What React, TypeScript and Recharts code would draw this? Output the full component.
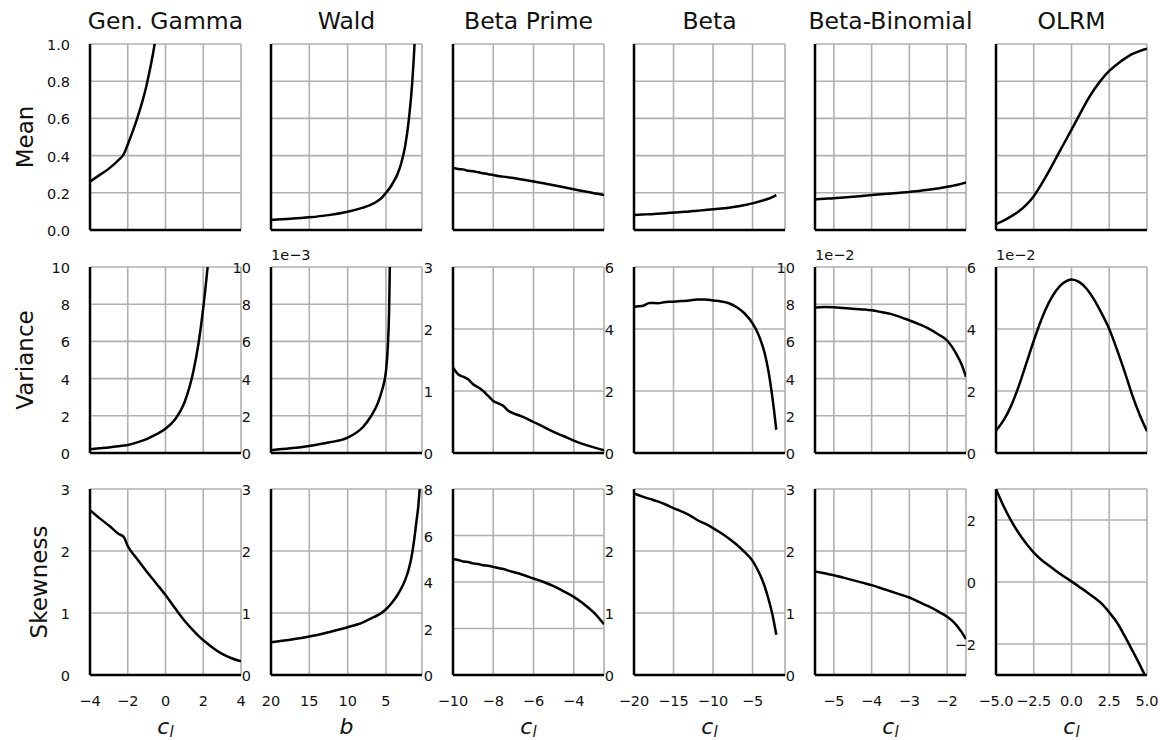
import React from 'react';
import { LineChart, Line, XAxis, YAxis, CartesianGrid } from 'recharts';

const FONT = 'DejaVu Sans';

// Column titles and row labels
const DIST_TITLES = ['Gen. Gamma', 'Wald', 'Beta Prime', 'Beta', 'Beta-Binomial', 'OLRM'];
const ROW_LABELS = ['Mean', 'Variance', 'Skewness'];
const X_LABELS = ['c', 'b', 'c', 'c', 'c', 'c'];

// Generalised gamma, against c_l
const GG_C = [-4, -3.5, -3, -2.5, -2.2, -2, -1.5, -1, -0.5, 0, 0.5, 1, 1.5, 1.75, 2, 2.25, 2.5, 3, 3.5, 4];
const GG_MEAN = [0.26, 0.295, 0.33, 0.375, 0.41, 0.46, 0.6, 0.78, 1.05, 1.5, null, null, null, null, null, null, null, null, null, null];
const GG_VAR = [0.2, 0.25, 0.3, 0.36, 0.4, 0.43, 0.57, 0.75, 1.0, 1.3, 1.8, 2.7, 4.5, 5.9, 7.8, 10.2, 13, null, null, null];
const GG_SKEW = [2.66, 2.53, 2.41, 2.28, 2.22, 2.08, 1.87, 1.67, 1.48, 1.29, 1.08, 0.88, 0.71, 0.63, 0.56, 0.5, 0.44, 0.34, 0.27, 0.22];

// Wald, against b (variance in units of 1e-3)
const WALD_B = [20, 17.5, 15, 12.5, 10, 8, 7, 6, 5.5, 5, 4.75, 4.6, 4.5, 4.25, 4, 3.5, 3, 2.5, 2, 1.6, 1.3, 1, 0.8, 0.6, 0.3];
const WALD_MEAN = [0.054, 0.06, 0.068, 0.08, 0.098, 0.12, 0.135, 0.158, 0.176, 0.2, 0.212, 0.22, 0.226, 0.242, 0.26, 0.3, 0.36, 0.45, 0.6, 0.78, 0.98, 1.3, null, null, null];
const WALD_VAR = [0.15, 0.25, 0.38, 0.56, 0.83, 1.4, 1.95, 2.75, 3.4, 4.4, 5.8, 7.5, 9.9, 15, null, null, null, null, null, null, null, null, null, null, null];
const WALD_SKEW = [0.53, 0.57, 0.62, 0.69, 0.77, 0.85, 0.91, 0.97, 1.01, 1.06, 1.09, 1.11, 1.125, 1.16, 1.2, 1.29, 1.4, 1.53, 1.72, 1.95, 2.2, 2.5, 2.7, 3.0, 3.4];

// Beta prime, against c_l
const BP_C = [-10, -9.75, -9.5, -9.25, -9, -8.75, -8.5, -8.25, -8, -7.75, -7.5, -7.25, -7, -6.5, -6, -5.5, -5, -4.5, -4, -3.5, -3, -2.5];
const BP_MEAN = [0.333, 0.328, 0.326, 0.318, 0.316, 0.31, 0.305, 0.3, 0.296, 0.29, 0.287, 0.283, 0.279, 0.27, 0.261, 0.251, 0.241, 0.23, 0.219, 0.208, 0.198, 0.188];
const BP_VAR = [1.38, 1.27, 1.23, 1.19, 1.11, 1.06, 1.0, 0.92, 0.84, 0.8, 0.76, 0.68, 0.64, 0.58, 0.5, 0.42, 0.34, 0.27, 0.2, 0.14, 0.09, 0.045];
const BP_SKEW = [4.98, 4.95, 4.88, 4.86, 4.8, 4.77, 4.72, 4.7, 4.65, 4.6, 4.56, 4.49, 4.43, 4.3, 4.15, 4.0, 3.82, 3.6, 3.36, 3.05, 2.68, 2.18];

// Beta, against c_l
const BETA_C = [-20, -19, -18, -17, -16, -15, -14, -13, -12, -11, -10, -9, -8, -7, -6, -5, -4.5, -4, -3.5, -3, -2.5, -2];
const BETA_MEAN = [0.08, 0.083, 0.085, 0.088, 0.09, 0.094, 0.097, 0.1, 0.104, 0.107, 0.111, 0.115, 0.12, 0.126, 0.134, 0.143, 0.149, 0.155, 0.161, 0.168, 0.177, 0.188];
const BETA_VAR = [4.72, 4.74, 4.84, 4.83, 4.87, 4.88, 4.9, 4.92, 4.95, 4.95, 4.92, 4.89, 4.83, 4.7, 4.5, 4.18, 3.95, 3.65, 3.25, 2.65, 1.8, 0.75];
const BETA_SKEW = [2.93, 2.88, 2.84, 2.8, 2.75, 2.69, 2.64, 2.58, 2.5, 2.44, 2.37, 2.29, 2.2, 2.1, 1.98, 1.84, 1.73, 1.6, 1.44, 1.23, 0.98, 0.65];

// Beta-binomial, against c_l (variance in units of 1e-2)
const BB_C = [-5.5, -5.25, -5, -4.75, -4.5, -4.25, -4, -3.75, -3.5, -3.25, -3, -2.75, -2.5, -2.25, -2, -1.875, -1.75, -1.625, -1.5];
const BB_MEAN = [0.165, 0.168, 0.171, 0.175, 0.179, 0.183, 0.188, 0.192, 0.196, 0.2, 0.205, 0.21, 0.216, 0.223, 0.232, 0.237, 0.242, 0.248, 0.255];
const BB_VAR = [7.82, 7.85, 7.84, 7.8, 7.76, 7.72, 7.67, 7.58, 7.48, 7.32, 7.13, 6.93, 6.7, 6.4, 6.05, 5.72, 5.3, 4.8, 4.1];
const BB_SKEW = [1.67, 1.64, 1.61, 1.57, 1.53, 1.49, 1.45, 1.4, 1.35, 1.3, 1.25, 1.18, 1.11, 1.03, 0.94, 0.88, 0.8, 0.7, 0.58];

// Ordered logistic regression model, against c_l (variance in units of 1e-2)
const OLRM_C = [-5, -4.5, -4, -3.5, -3, -2.5, -2, -1.5, -1, -0.5, 0, 0.5, 1, 1.5, 2, 2.5, 3, 3.5, 4, 4.5, 5];
const OLRM_MEAN = [0.032, 0.05, 0.073, 0.1, 0.135, 0.182, 0.245, 0.315, 0.39, 0.465, 0.54, 0.615, 0.69, 0.755, 0.81, 0.855, 0.89, 0.92, 0.945, 0.962, 0.975];
const OLRM_VAR = [0.72, 1.05, 1.52, 2.15, 2.88, 3.62, 4.3, 4.85, 5.25, 5.5, 5.6, 5.52, 5.3, 4.95, 4.5, 4.0, 3.35, 2.65, 1.9, 1.25, 0.7];
const OLRM_SKEW = [3.0, 2.45, 1.98, 1.58, 1.24, 0.95, 0.72, 0.53, 0.35, 0.18, 0.02, -0.15, -0.32, -0.5, -0.7, -0.98, -1.3, -1.72, -2.18, -2.65, -3.15];

// Axis settings per column
const X_DOMAINS: [number, number][] = [[-4, 4], [0.3, 20], [-10, -2.5], [-20, -0.9], [-5.5, -1.5], [-5, 5]];
const X_TICKS = [[-4, -2, 0, 2, 4], [5, 10, 15, 20], [-10, -8, -6, -4], [-20, -15, -10, -5], [-5, -4, -3, -2], [-5, -2.5, 0, 2.5, 5]];
const X_DECIMALS = [0, 0, 0, 0, 0, 1];

// Axis settings per row and column
const MEAN_TICKS = [0, 0.2, 0.4, 0.6, 0.8, 1];
const Y_DOMAINS: [number, number][][] = [
  [[0, 1], [0, 1], [0, 1], [0, 1], [0, 1], [0, 1]],
  [[0, 10], [0, 10], [0, 3], [0, 6], [0, 10], [0, 6]],
  [[0, 3], [0, 3], [0, 8], [0, 3], [0, 3], [-3, 3]],
];
const Y_TICKS = [
  [MEAN_TICKS, MEAN_TICKS, MEAN_TICKS, MEAN_TICKS, MEAN_TICKS, MEAN_TICKS],
  [[0, 2, 4, 6, 8, 10], [0, 2, 4, 6, 8, 10], [0, 1, 2, 3], [0, 2, 4, 6], [0, 2, 4, 6, 8, 10], [0, 2, 4, 6]],
  [[0, 1, 2, 3], [0, 1, 2, 3], [0, 2, 4, 6, 8], [0, 1, 2, 3], [0, 1, 2, 3], [-2, 0, 2]],
];
const Y_OFFSETS = [
  ['', '', '', '', '', ''],
  ['', '1e\u22123', '', '', '1e\u22122', '1e\u22122'],
  ['', '', '', '', '', ''],
];

const X_VALUES = [GG_C, WALD_B, BP_C, BETA_C, BB_C, OLRM_C];
const SERIES = [
  [GG_MEAN, WALD_MEAN, BP_MEAN, BETA_MEAN, BB_MEAN, OLRM_MEAN],
  [GG_VAR, WALD_VAR, BP_VAR, BETA_VAR, BB_VAR, OLRM_VAR],
  [GG_SKEW, WALD_SKEW, BP_SKEW, BETA_SKEW, BB_SKEW, OLRM_SKEW],
];

// Layout of the 6 x 3 grid of panels
const COL_LEFT = [90, 271, 453, 634, 815, 996];
const ROW_TOP = [44, 267, 489];
const PW = 151;
const PH = 186;
const ML = 60;
const MR = 20;
const MT = 16;
const MB = 40;
const ROW_LABEL_X = [33, 33, 47];

const fmt = (decimals: number) => (v: number) => v.toFixed(decimals).replace('-', '\u2212');

// Tick label renderer; hidden labels still keep their ticks for the grid
const makeTick = (show: boolean, decimals: number, axis: 'x' | 'y') => (props: any) => {
  const { x, y, payload } = props;
  if (!show) return <g />;
  return (
    <text
      x={x}
      y={y}
      dy={axis === 'x' ? '0.76em' : '0.42em'}
      textAnchor={axis === 'x' ? 'middle' : 'end'}
      fontFamily={FONT}
      fontSize={14.5}
      fill="#111"
    >
      {fmt(decimals)(payload.value)}
    </text>
  );
};

const spine = { stroke: '#000', strokeWidth: 2.5 };

type PanelProps = { row: number; col: number };

function Panel({ row, col }: PanelProps) {
  const xs = X_VALUES[col];
  const ys = SERIES[row][col];
  const data = xs.map((x, i) => ({ x, y: ys[i] }));
  const showX = row === 2;
  const showY = row > 0 || col === 0;
  const yDec = row === 0 ? 1 : 0;
  return (
    <div style={{ position: 'absolute', left: COL_LEFT[col] - ML, top: ROW_TOP[row] - MT }}>
      <LineChart width={ML + PW + MR} height={MT + PH + MB} data={data} margin={{ top: MT, right: MR, bottom: 0, left: 0 }}>
        <CartesianGrid stroke="#b0b0b0" strokeWidth={1.6} />
        <XAxis
          type="number"
          dataKey="x"
          domain={X_DOMAINS[col]}
          ticks={X_TICKS[col]}
          reversed={col === 1}
          allowDataOverflow
          interval={0}
          height={MB}
          tickLine={false}
          tickSize={0}
          tickMargin={20}
          axisLine={spine}
          tick={makeTick(showX, X_DECIMALS[col], 'x')}
        />
        <YAxis
          type="number"
          domain={Y_DOMAINS[row][col]}
          ticks={Y_TICKS[row][col]}
          allowDataOverflow
          interval={0}
          width={ML}
          tickLine={false}
          tickSize={0}
          tickMargin={20}
          axisLine={spine}
          tick={makeTick(showY, yDec, 'y')}
        />
        <Line
          dataKey="y"
          type="monotone"
          stroke="#000"
          strokeWidth={2.5}
          dot={false}
          connectNulls={false}
          isAnimationActive={false}
        />
      </LineChart>
    </div>
  );
}

export default function App() {
  const panels = [];
  for (let r = 0; r < 3; r++) {
    for (let c = 0; c < 6; c++) {
      panels.push(<Panel key={`${r}-${c}`} row={r} col={c} />);
    }
  }
  return (
    <div style={{ position: 'absolute', left: 0, top: 0, width: 1160, height: 740, background: '#fff', overflow: 'hidden' }}>
      {panels}
      <svg width={1160} height={740} style={{ position: 'absolute', left: 0, top: 0, pointerEvents: 'none' }}>
        {DIST_TITLES.map((t, c) => (
          <text key={t} x={COL_LEFT[c] + PW / 2} y={29} textAnchor="middle" fontFamily={FONT} fontSize={23.5} fill="#111">
            {t}
          </text>
        ))}
        {ROW_LABELS.map((t, r) => (
          <text
            key={t}
            transform={`translate(${ROW_LABEL_X[r]}, ${ROW_TOP[r] + PH / 2}) rotate(-90)`}
            textAnchor="middle"
            fontFamily={FONT}
            fontSize={23}
            fill="#111"
          >
            {t}
          </text>
        ))}
        {Y_OFFSETS.map((rowOffsets, r) =>
          rowOffsets.map((t, c) =>
            t ? (
              <text key={`o${r}-${c}`} x={COL_LEFT[c]} y={ROW_TOP[r] - 7.5} fontFamily={FONT} fontSize={14.5} fill="#111">
                {t}
              </text>
            ) : null
          )
        )}
        {X_LABELS.map((t, c) => (
          <text key={`x${c}`} x={COL_LEFT[c] + PW / 2} y={734} textAnchor="middle" fontFamily={FONT} fontStyle="italic" fontSize={22} fill="#111">
            {t}
            {t === 'c' ? (
              <tspan fontSize={15} dy={3}>
                l
              </tspan>
            ) : null}
          </text>
        ))}
      </svg>
    </div>
  );
}
